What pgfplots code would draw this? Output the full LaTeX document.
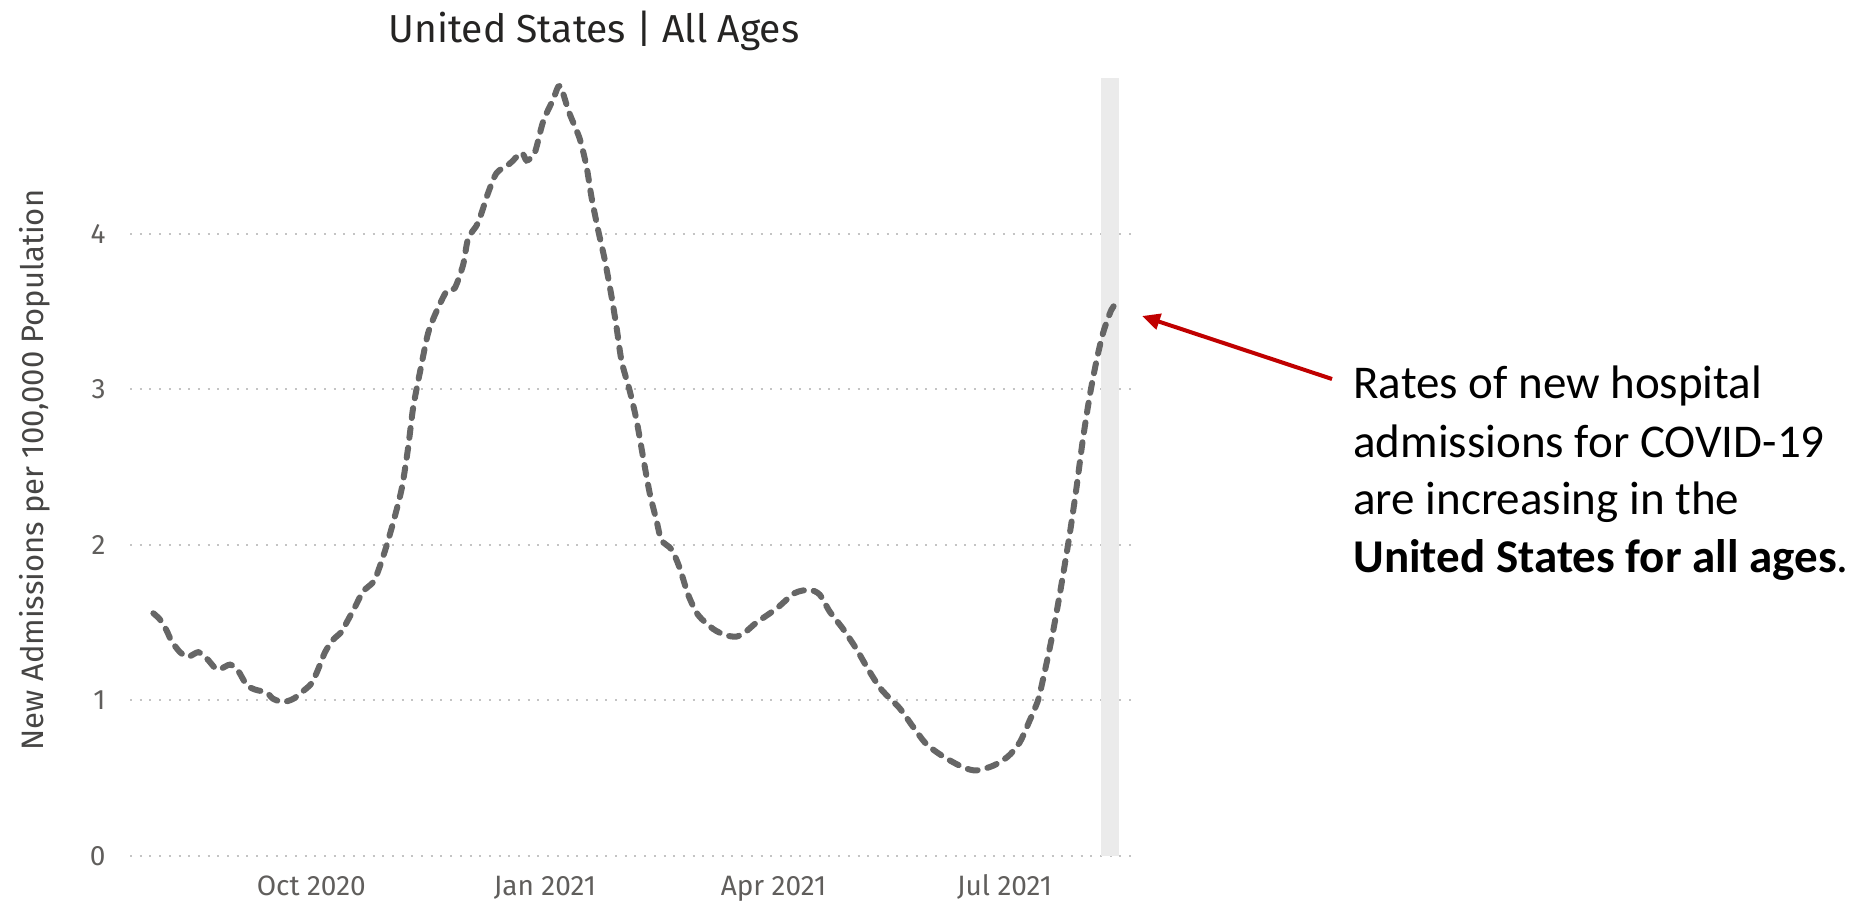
\documentclass[border=0pt]{standalone}
\usepackage{pgfplots}
\pgfplotsset{compat=1.18}
\usepackage{fontspec}
\setmainfont{Fira Sans}
\newfontfamily\annfont{Carlito}
\usetikzlibrary{arrows.meta}
\definecolor{linegray}{HTML}{666666}
\definecolor{bandgray}{HTML}{EBEBEB}
\definecolor{gridgray}{HTML}{C4C4C4}
\definecolor{ticktext}{HTML}{605E5C}
\definecolor{titletext}{HTML}{252423}
\definecolor{arrowred}{HTML}{C00000}
\begin{document}
\begin{tikzpicture}
\useasboundingbox (0,0) rectangle (937.5pt,451pt);
\begin{axis}[
  at={(65pt,23pt)}, anchor=south west,
  scale only axis, width=502.5pt, height=389pt,
  xmin=-71.4, xmax=324.4, ymin=0, ymax=5,
  clip=false,
  axis line style={draw=none},
  major tick length=0pt,
  xtick={0,92,182,273},
  xticklabels={Oct 2020,Jan 2021,Apr 2021,Jul 2021},
  ytick={0,1,2,3,4},
  ymajorgrids,
  major grid style={draw=gridgray, line width=1pt, dash pattern=on 1pt off 3.85pt},
  /pgf/number format/assume math mode=true,
  ticklabel style={font=\fontsize{14}{16}\selectfont, text=ticktext, inner sep=0pt},
  xticklabel style={anchor=base, yshift=-19.5pt},
  yticklabel style={anchor=east, xshift=-12pt},
]
\addplot[fill=bandgray, draw=none] coordinates {(311.1,0) (317.9,0) (317.9,5) (311.1,5)} -- cycle;
\addplot[linegray, line width=3pt, line cap=round, dash pattern=on 5pt off 5pt, smooth, tension=0.45] coordinates {
(-62.2,1.56) (-59.6,1.52) (-57.0,1.45) (-55.0,1.38) (-51.7,1.31) (-48.5,1.28)
(-44.5,1.31) (-41.2,1.27) (-38.0,1.21) (-36.0,1.20) (-32.0,1.23) (-28.8,1.19)
(-25.5,1.10) (-22.2,1.07) (-17.6,1.05) (-15.0,1.01) (-11.1,0.99) (-7.1,1.01)
(-3.2,1.06) (0.1,1.11) (2.7,1.20) (5.4,1.31) (8.6,1.39) (11.9,1.44)
(13.9,1.50) (17.2,1.60) (20.4,1.70) (24.4,1.76) (26.3,1.83) (29.0,1.96)
(32.2,2.14) (35.6,2.36) (38.1,2.62) (40.1,2.88) (42.8,3.11) (46.0,3.36)
(49.3,3.50) (53.3,3.63) (56.5,3.65) (59.8,3.80) (61.8,3.97) (65.7,4.07)
(69.6,4.26) (73.0,4.39) (78.2,4.45) (82.8,4.52) (84.8,4.47) (88.0,4.52)
(91.3,4.72) (95.2,4.86) (97.9,4.95) (101.5,4.78) (105.7,4.61) (108.4,4.43)
(110.4,4.23) (113.0,4.02) (115.6,3.83) (118.2,3.60) (120.2,3.40) (122.2,3.18)
(125.4,2.99) (128.1,2.80) (130.7,2.56) (133.3,2.33) (135.9,2.16) (137.9,2.03)
(141.9,1.97) (145.1,1.85) (148.4,1.68) (152.3,1.55) (158.2,1.46) (163.0,1.42)
(167.4,1.41) (171.0,1.44) (175.3,1.50) (183.2,1.59) (190.4,1.69) (196.3,1.71)
(200.2,1.68) (204.2,1.57) (209.4,1.46) (214.7,1.33) (219.3,1.20) (224.5,1.07)
(231.7,0.95) (237.0,0.83) (242.2,0.72) (248.8,0.64) (256.7,0.57) (261.9,0.55)
(268.5,0.58) (274.4,0.64) (279.0,0.73) (282.9,0.87) (286.2,1.00) (288.1,1.13)
(290.1,1.28) (292.1,1.44) (294.1,1.62) (296.0,1.80) (298.7,2.07) (301.3,2.36)
(303.9,2.68) (306.6,2.96) (309.2,3.18) (311.8,3.36) (315.1,3.51) (318.4,3.58)
};
\end{axis}
\node[anchor=base, font=\fontsize{19.5}{22}\selectfont, text=titletext, inner sep=0pt] at (297pt,429.5pt) {United States | All Ages};
\node[anchor=base, rotate=90, font=\fontsize{15.5}{18}\selectfont, text=titletext!85, inner sep=0pt] at (21.5pt,216pt) {New Admissions per 100,000 Population};
\draw[arrowred, line width=2pt, -{Triangle[length=9pt,width=8pt]}] (666pt,261.5pt) -- (571pt,293pt);
\begin{scope}[every node/.style={anchor=base west, inner sep=0pt, font=\annfont\fontsize{23.5}{28}\selectfont}]
\node at (676.5pt,252pt) {Rates of new hospital};
\node at (676.5pt,222.5pt) {admissions for COVID-19};
\node at (676.5pt,194pt) {are increasing in the};
\node at (676.5pt,165pt) {\textbf{United States for all ages}.};
\end{scope}
\end{tikzpicture}
\end{document}
